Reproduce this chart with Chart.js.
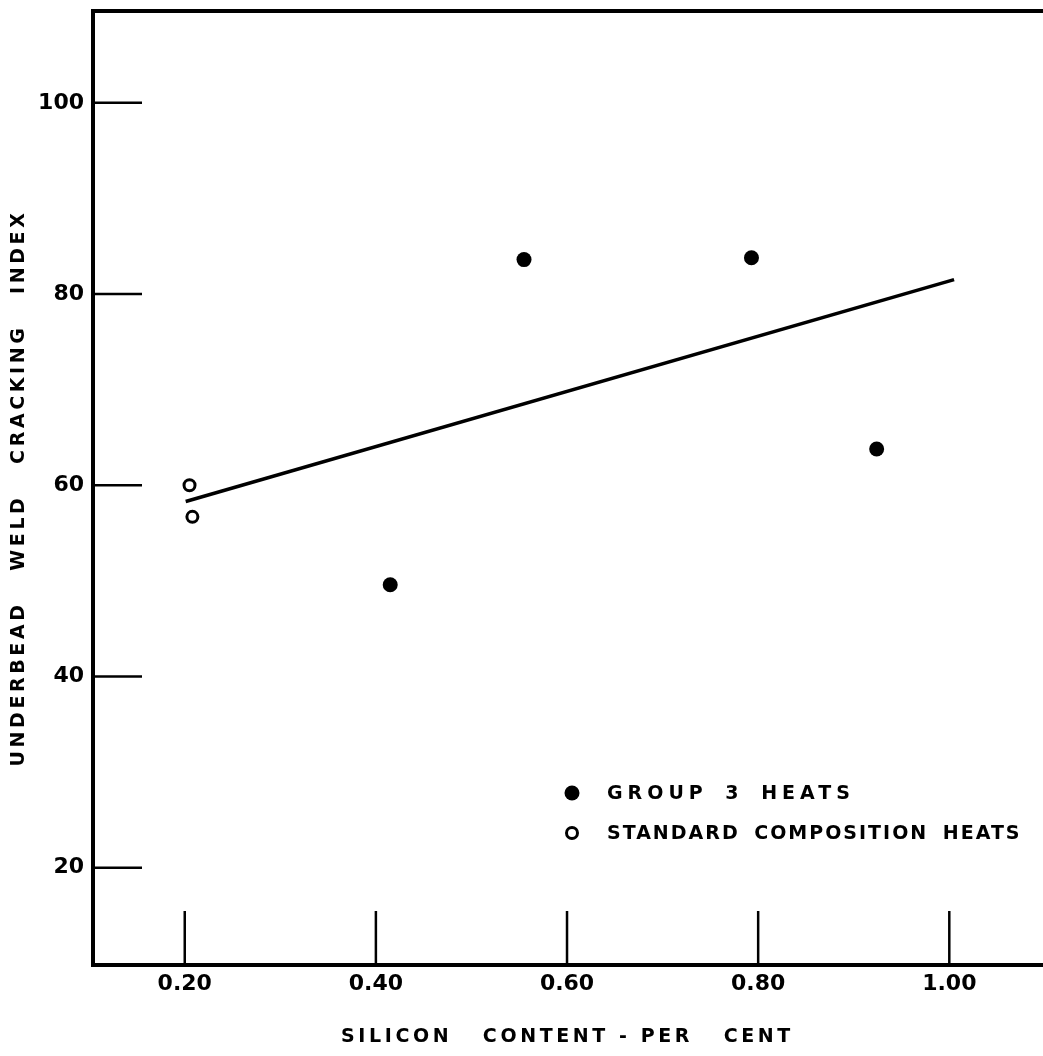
<!DOCTYPE html>
<html>
<head>
<meta charset="utf-8">
<title>Underbead weld cracking index vs silicon content</title>
<script src="https://cdn.jsdelivr.net/npm/chart.js@4.4.1/dist/chart.umd.min.js"></script>
<style>
  html, body { margin: 0; padding: 0; background: #fff; }
  #chart { display: block; }
</style>
</head>
<body>
<canvas id="chart" width="1043" height="1056"></canvas>
<script>
// values (silicon per cent vs. cracking index)
const group3Silicon = [0.415, 0.555, 0.793, 0.924];
const group3Index = [49.6, 83.6, 83.8, 63.8];
const standardSilicon = [0.205, 0.208];
const standardIndex = [60.0, 56.7];
const trendSilicon = [0.201, 1.005];
const trendIndex = [58.3, 81.5];

const xTicks = [0.20, 0.40, 0.60, 0.80, 1.00];
const yTicks = [20, 40, 60, 80, 100];

const legendLabels = ["GROUP 3 HEATS", "STANDARD COMPOSITION HEATS"];
const xTitle = "SILICON   CONTENT - PER   CENT";
const yTitle = "UNDERBEAD   WELD   CRACKING   INDEX";

const FONT = "'DejaVu Sans', sans-serif";
const toPoints = (xs, ys) => xs.map((x, i) => ({ x, y: ys[i] }));

// frame top, inward tick marks, spaced lettering and the legend inside the plot
const lettering = {
  id: "lettering",
  beforeDraw(chart) {
    // axis titles are drawn in the first (grid) layer
    chart.ctx.letterSpacing = "3.6px";
  },
  beforeDatasetsDraw(chart) {
    chart.ctx.letterSpacing = "0px";
  },
  afterDatasetsDraw(chart) {
    const { ctx, chartArea: a, scales: { x, y } } = chart;
    ctx.save();
    ctx.strokeStyle = "#000";
    ctx.lineWidth = 4;
    ctx.beginPath();
    ctx.moveTo(a.left - 2, a.top);
    ctx.lineTo(chart.width, a.top);
    ctx.stroke();

    ctx.lineWidth = 2.5;
    y.ticks.forEach(t => {
      const py = y.getPixelForValue(t.value);
      ctx.beginPath();
      ctx.moveTo(a.left, py);
      ctx.lineTo(a.left + 49, py);
      ctx.stroke();
    });
    x.ticks.forEach(t => {
      const px = x.getPixelForValue(t.value);
      ctx.beginPath();
      ctx.moveTo(px, a.bottom);
      ctx.lineTo(px, a.bottom - 54);
      ctx.stroke();
    });
    ctx.restore();
  },
  afterDraw(chart) {
    const ctx = chart.ctx;
    const rows = [793, 833];
    const spacing = ["5px", "2px"];
    ctx.save();
    ctx.font = "bold 19px " + FONT;
    ctx.textBaseline = "middle";
    ctx.textAlign = "left";
    legendLabels.forEach((label, i) => {
      const ds = chart.data.datasets[i];
      ctx.beginPath();
      ctx.arc(572, rows[i], ds.pointRadius, 0, Math.PI * 2);
      ctx.fillStyle = ds.pointBackgroundColor;
      ctx.fill();
      if (ds.pointBorderWidth) {
        ctx.lineWidth = ds.pointBorderWidth;
        ctx.strokeStyle = ds.pointBorderColor;
        ctx.stroke();
      }
      ctx.fillStyle = "#000";
      ctx.letterSpacing = spacing[i];
      ctx.wordSpacing = "6px";
      ctx.fillText(label, 607, rows[i] + 1);
    });
    ctx.restore();
  }
};

new Chart(document.getElementById("chart"), {
  type: "scatter",
  data: {
    datasets: [
      {
        label: legendLabels[0],
        data: toPoints(group3Silicon, group3Index),
        pointRadius: 7.5,
        pointBackgroundColor: "#000",
        pointBorderColor: "#000",
        pointBorderWidth: 0
      },
      {
        label: legendLabels[1],
        data: toPoints(standardSilicon, standardIndex),
        pointRadius: 5.5,
        pointBackgroundColor: "#fff",
        pointBorderColor: "#000",
        pointBorderWidth: 3
      },
      {
        label: "trend",
        type: "line",
        data: toPoints(trendSilicon, trendIndex),
        borderColor: "#000",
        borderWidth: 3.5,
        pointRadius: 0,
        fill: false
      }
    ]
  },
  options: {
    responsive: false,
    animation: false,
    events: [],
    layout: { autoPadding: false, padding: { top: 11, right: 1, left: 0, bottom: 0 } },
    plugins: { legend: { display: false }, tooltip: { enabled: false } },
    scales: {
      x: {
        type: "linear",
        min: 0.104,
        max: 1.097,
        afterFit: s => {
          s.height = 91;
          s.paddingLeft = 0;
          s.paddingRight = 0;
        },
        afterBuildTicks: s => { s.ticks = xTicks.map(v => ({ value: v })); },
        grid: { display: false, drawTicks: false },
        border: { display: true, color: "#000", width: 4 },
        ticks: {
          z: 1,
          padding: 6,
          color: "#000",
          font: { family: FONT, size: 22, weight: "bold" },
          callback: v => v.toFixed(2)
        },
        title: {
          display: true,
          text: xTitle,
          color: "#000",
          padding: { top: 0, bottom: 8 },
          font: { family: FONT, size: 19, weight: "bold" }
        }
      },
      y: {
        type: "linear",
        min: 9.83,
        max: 109.6,
        afterFit: s => {
          s.width = 93;
          s.paddingTop = 0;
          s.paddingBottom = 0;
        },
        afterBuildTicks: s => { s.ticks = yTicks.map(v => ({ value: v })); },
        grid: { display: false, drawTicks: false },
        border: { display: true, color: "#000", width: 4 },
        ticks: {
          z: 1,
          padding: 9,
          color: "#000",
          font: { family: FONT, size: 22, weight: "bold" },
          callback: v => String(v)
        },
        title: {
          display: true,
          text: yTitle,
          color: "#000",
          padding: { top: 8, bottom: 0 },
          font: { family: FONT, size: 19, weight: "bold" }
        }
      }
    }
  },
  plugins: [lettering]
});
</script>
</body>
</html>
